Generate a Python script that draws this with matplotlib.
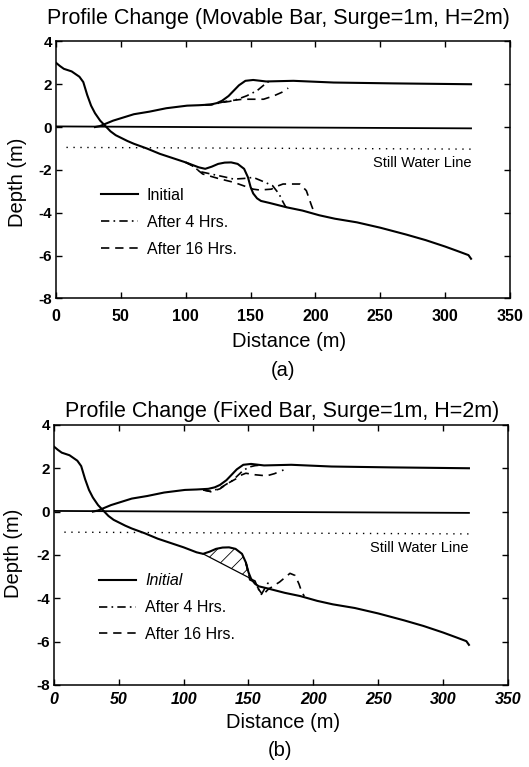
import matplotlib
matplotlib.use("Agg")
import matplotlib.pyplot as plt
import numpy as np

plt.rcParams["font.family"] = ["Liberation Sans", "DejaVu Sans"]
plt.rcParams["axes.unicode_minus"] = False
plt.rcParams["hatch.linewidth"] = 0.6

# initial profile (same in both runs)
x_init = np.array([0, 3, 6, 12, 18, 21, 24, 27, 30, 34, 38, 42, 46, 50, 55, 60, 70, 80, 90,
                   100, 110, 115, 120, 125, 130, 135, 140, 145, 148, 150, 152, 155, 158, 165,
                   178, 190, 203, 215, 232, 250, 270, 285, 300, 310, 318, 320])
y_init = np.array([3.0, 2.85, 2.72, 2.6, 2.35, 2.1, 1.5, 1.0, 0.65, 0.3, 0.05, -0.2, -0.38, -0.5,
                   -0.65, -0.78, -1.0, -1.25, -1.45, -1.65, -1.88, -1.95, -1.85, -1.72, -1.66,
                   -1.65, -1.72, -1.95, -2.35, -2.8, -3.1, -3.33, -3.45, -3.55, -3.75, -3.9,
                   -4.12, -4.28, -4.45, -4.7, -5.02, -5.28, -5.58, -5.8, -5.98, -6.15])

x_up = np.array([30, 34, 38, 44, 52, 60, 72, 85, 101, 110, 119, 124, 128, 133, 137, 141, 146,
                 152, 162, 183, 214, 260, 320])
y_up = np.array([0.0, 0.05, 0.15, 0.3, 0.45, 0.6, 0.72, 0.88, 1.0, 1.02, 1.05, 1.12, 1.23, 1.45,
                 1.7, 1.95, 2.16, 2.2, 2.13, 2.16, 2.08, 2.04, 2.0])

# reference lines
x_zero = np.array([0, 320])
y_zero = np.array([0.03, -0.06])
x_swl = np.array([8, 320])
y_swl = np.array([-0.95, -1.03])

# (a) movable bar
xa_4h = np.array([100, 105, 111, 120, 130, 137, 145, 152, 160, 167, 172, 175, 177, 178])
ya_4h = np.array([-1.65, -1.8, -2.08, -2.2, -2.33, -2.43, -2.4, -2.35, -2.55, -2.74, -3.13,
                  -3.5, -3.72, -3.76])
xa_16h = np.array([100, 105, 113, 125, 137, 145, 152, 157, 166, 171, 175, 188, 193, 197, 199])
ya_16h = np.array([-1.65, -1.8, -2.19, -2.4, -2.58, -2.75, -2.9, -2.94, -2.9, -2.75, -2.66,
                   -2.66, -2.97, -3.67, -3.98])
xa_up4 = np.array([115, 120, 128, 134, 140, 147, 155, 160, 164])
ya_up4 = np.array([1.04, 1.05, 1.15, 1.2, 1.3, 1.46, 1.7, 1.95, 2.13])
xa_up16 = np.array([115, 120, 131, 137, 144, 152, 160, 168, 174, 179])
ya_up16 = np.array([1.04, 1.05, 1.2, 1.25, 1.3, 1.3, 1.3, 1.46, 1.62, 1.82])

# (b) fixed bar
base_x = np.array([115, 152])
base_y = np.array([-1.95, -3.1])
xb_4h = np.array([148, 151, 155, 157, 160, 163, 165, 166])
yb_4h = np.array([-2.35, -3.1, -3.2, -3.5, -3.82, -3.5, -3.3, -3.58])
xb_16h = np.array([148, 151, 155, 158, 161, 165, 170, 174, 178, 182, 186, 189, 191, 193])
yb_16h = np.array([-2.35, -3.15, -3.25, -3.6, -3.85, -3.6, -3.4, -3.25, -3.05, -2.85, -2.95,
                   -3.35, -3.7, -3.9])
xb_up4 = np.array([115, 121, 128, 138, 145, 150, 155, 160])
yb_up4 = np.array([1.0, 0.93, 1.08, 1.45, 1.85, 2.05, 2.12, 2.15])
xb_up16 = np.array([115, 121, 128, 134, 140, 145, 148, 155, 164, 170, 177])
yb_up16 = np.array([1.0, 0.92, 1.05, 1.3, 1.5, 1.7, 1.77, 1.7, 1.65, 1.75, 1.92])

labels = ["Initial", "After 4 Hrs.", "After 16 Hrs."]
dashdot = (0, (5, 2.5, 1, 2.5))
dashed = (0, (5, 3.5))


def style_axes(ax, xpad, italic_x):
    ax.set_xlim(0, 350)
    ax.set_ylim(-8, 4)
    ax.set_xticks(np.arange(0, 351, 50))
    ax.set_yticks(np.arange(-8, 5, 2))
    ax.tick_params(direction="in", top=True, right=True, length=4, width=1)
    ax.tick_params(axis="x", pad=xpad)
    ax.tick_params(axis="y", pad=3)
    for lab in ax.get_xticklabels():
        lab.set_fontweight("bold")
        lab.set_fontsize(11.5)
        if italic_x:
            lab.set_style("italic")
    for lab in ax.get_yticklabels():
        lab.set_fontweight("bold")
        lab.set_fontsize(11)
    for s in ax.spines.values():
        s.set_linewidth(1.1)
    ax.set_xlabel("Distance (m)", fontsize=14.5)
    ax.set_ylabel("Depth (m)", fontsize=14.5)
    ax.plot(x_zero, y_zero, color="black", lw=1.3)
    ax.plot(x_swl, y_swl, color="black", lw=1.0, linestyle=(0, (1, 4)))
    ax.text(320, -1.68, "Still Water Line", fontsize=10.5, ha="right", va="center")


fig = plt.figure(figsize=(5.29, 7.67), dpi=100)
ax_a = fig.add_axes([0.106, 0.611, 0.858, 0.335])
ax_b = fig.add_axes([0.102, 0.107, 0.858, 0.339])

# panel (a)
style_axes(ax_a, 8, False)
h1, = ax_a.plot(x_init, y_init, color="black", lw=1.5)
ax_a.plot(x_up, y_up, color="black", lw=1.5)
h2, = ax_a.plot(xa_4h, ya_4h, color="black", lw=1.2, linestyle=dashdot)
ax_a.plot(xa_up4, ya_up4, color="black", lw=1.2, linestyle=dashdot)
h3, = ax_a.plot(xa_16h, ya_16h, color="black", lw=1.2, linestyle=dashed)
ax_a.plot(xa_up16, ya_up16, color="black", lw=1.2, linestyle=dashed)
ax_a.legend([h1, h2, h3], labels, loc="upper left", bbox_to_anchor=(0.1, 0.43),
            frameon=False, fontsize=11.5, handlelength=2.3, handletextpad=0.55,
            labelspacing=0.75, borderpad=0, borderaxespad=0)
ax_a.xaxis.set_label_coords(0.513, -0.13)
ax_a.yaxis.set_label_coords(-0.065, 0.45)

# panel (b)
style_axes(ax_b, 5, True)
g1, = ax_b.plot(x_init, y_init, color="black", lw=1.5)
ax_b.plot(x_up, y_up, color="black", lw=1.5)
mask = (x_init >= base_x[0]) & (x_init <= base_x[1])
bx = x_init[mask]
ax_b.fill_between(bx, np.interp(bx, base_x, base_y), y_init[mask], facecolor="none",
                  edgecolor="black", hatch="//", lw=0)
ax_b.plot(base_x, base_y, color="black", lw=0.9)
g2, = ax_b.plot(xb_4h, yb_4h, color="black", lw=1.2, linestyle=dashdot)
ax_b.plot(xb_up4, yb_up4, color="black", lw=1.2, linestyle=dashdot)
g3, = ax_b.plot(xb_16h, yb_16h, color="black", lw=1.2, linestyle=dashed)
ax_b.plot(xb_up16, yb_up16, color="black", lw=1.2, linestyle=dashed)
leg = ax_b.legend([g1, g2, g3], labels, loc="upper left", bbox_to_anchor=(0.1, 0.43),
                  frameon=False, fontsize=11.5, handlelength=2.3, handletextpad=0.55,
                  labelspacing=0.75, borderpad=0, borderaxespad=0)
leg.get_texts()[0].set_style("italic")
ax_b.xaxis.set_label_coords(0.504, -0.108)
ax_b.yaxis.set_label_coords(-0.068, 0.508)

fig.text(278 / 529, 1 - 24 / 767, "Profile Change (Movable Bar, Surge=1m, H=2m)",
         fontsize=15.5, ha="center", va="baseline")
fig.text(282 / 529, 1 - 416.7 / 767, "Profile Change (Fixed Bar, Surge=1m, H=2m)",
         fontsize=15.5, ha="center", va="baseline")
fig.text(283 / 529, 1 - 370 / 767, "(a)", fontsize=14.5, ha="center", va="center")
fig.text(280 / 529, 1 - 750 / 767, "(b)", fontsize=14.5, ha="center", va="center")

fig.savefig("out.png", dpi=100)
